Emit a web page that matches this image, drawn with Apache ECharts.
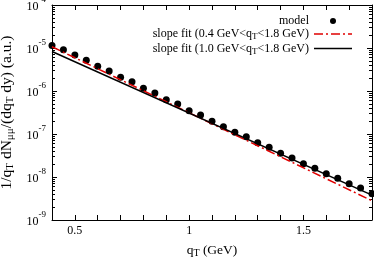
<!DOCTYPE html>
<html>
<head>
<meta charset="utf-8">
<script src="https://cdn.jsdelivr.net/npm/echarts@6/dist/echarts.min.js"></script>
<style>
html,body{margin:0;padding:0;background:#fff;}
#c{width:374px;height:257px;}
</style>
</head>
<body>
<div id="c"></div>
<script>
// Data
const qT = [0.40,0.45,0.50,0.55,0.60,0.65,0.70,0.75,0.80,0.85,0.90,0.95,1.00,1.05,1.10,
            1.15,1.20,1.25,1.30,1.35,1.40,1.45,1.50,1.55,1.60,1.65,1.70,1.75,1.80];
const modelVals = [1.15e-5,9.1e-6,6.9e-6,5.2e-6,3.75e-6,2.92e-6,2.08e-6,1.64e-6,1.16e-6,8.98e-7,
                   6.28e-7,4.99e-7,3.48e-7,2.77e-7,1.97e-7,1.48e-7,1.10e-7,8.66e-8,6.28e-8,4.91e-8,
                   3.56e-8,2.77e-8,2.04e-8,1.59e-8,1.19e-8,9.33e-9,6.98e-9,5.55e-9,4.09e-9];
const fitAx = [0.4, 1.8];
const fitAVals = [1.07e-5, 2.8e-9];   // slope fit (0.4-1.8 GeV)
const fitBx = [0.4, 1.8];
const fitBVals = [8.3e-6, 3.8e-9];    // slope fit (1.0-1.8 GeV)
const xLabels = ['0.5','1','1.5'];

const FONT = 'Liberation Serif';
const chart = echarts.init(document.getElementById('c'));
const pair = (xs, ys) => xs.map((x,i)=>[x, ys[i]]);
const richLegend = {
  n: {fontFamily: FONT, fontSize: 12, color: '#000', lineHeight: 15},
  s: {fontFamily: FONT, fontSize: 9, color: '#000', lineHeight: 9, verticalAlign: 'bottom'}
};
const richX = {
  n: {fontFamily: FONT, fontSize: 13.5, color: '#000', lineHeight: 16},
  s: {fontFamily: FONT, fontSize: 10, color: '#000', lineHeight: 9, verticalAlign: 'bottom'}
};
const richY = {
  n: {fontFamily: FONT, fontSize: 15.5, color: '#000', lineHeight: 18},
  s: {fontFamily: FONT, fontSize: 11, color: '#000', lineHeight: 10, verticalAlign: 'bottom'}
};
const tickCommon = {show: true, inside: true, length: 5, lineStyle: {color: '#000', width: 1}};
const minorCommon = {show: true, splitNumber: 9, length: 3, lineStyle: {color: '#000', width: 1}};
const solidIcon = 'path://M0,0H38V1.5H0Z';
const dashDotIcon = 'path://M0,0H9V1.5H0Z M12,0H14V1.5H12Z M17,0H26V1.5H17Z M29,0H31V1.5H29Z M34,0H38V1.5H34Z';

chart.setOption({
  animation: false,
  backgroundColor: '#fff',
  grid: {left: 52, right: 2, top: 5, bottom: 37, containLabel: false, outerBoundsMode: 'none'},
  legend: {
    orient: 'vertical', align: 'right', right: 17, top: 10,
    itemWidth: 38, itemHeight: 6, itemGap: 1, symbolKeepAspect: true,
    textStyle: {fontFamily: FONT, fontSize: 12, color: '#000', rich: richLegend},
    formatter: function(name){
      if (name === 'model') return '{n|model}';
      if (name === 'fitA') return '{n|slope fit (0.4 GeV<q}{s|T}{n|<1.8 GeV)}';
      return '{n|slope fit (1.0 GeV<q}{s|T}{n|<1.8 GeV)}';
    },
    data: [
      {name: 'model', icon: 'circle'},
      {name: 'fitA', icon: dashDotIcon},
      {name: 'fitB', icon: solidIcon}
    ]
  },
  xAxis: [{
    type: 'value', min: 0.4, max: 1.8, interval: 0.1,
    name: '{n|q}{s|T}{n| (GeV)}', nameLocation: 'middle', nameGap: 22,
    nameTextStyle: {rich: richX},
    axisLine: {show: true, lineStyle: {color: '#000', width: 1}},
    axisTick: tickCommon,
    splitLine: {show: false},
    axisLabel: {
      fontFamily: FONT, fontSize: 12, color: '#000', margin: 5,
      formatter: function(v){
        const r = Math.round(v*2);
        if (Math.abs(v*2 - r) < 1e-6) {
          return xLabels[r - 1] || '';
        }
        return '';
      }
    }
  },{
    type: 'value', min: 0.4, max: 1.8, interval: 0.1, position: 'top',
    axisLine: {show: true, lineStyle: {color: '#000', width: 1}},
    axisTick: tickCommon, axisLabel: {show: false}, splitLine: {show: false}
  }],
  yAxis: [{
    type: 'log', logBase: 10, min: 1e-9, max: 1e-4,
    name: '{n|1/q}{s|T}{n| dN}{s|μμ}{n|/(dq}{s|T}{n| dy) (a.u.)}',
    nameLocation: 'middle', nameGap: 32, nameRotate: 90,
    nameTextStyle: {rich: richY},
    axisLine: {show: true, lineStyle: {color: '#000', width: 1}},
    axisTick: tickCommon,
    minorTick: minorCommon,
    splitLine: {show: false}, minorSplitLine: {show: false},
    axisLabel: {
      margin: 6,
      padding: [4, 0, 0, 0],
      formatter: function(v){
        const e = Math.round(Math.log10(v));
        return '{b|10}{e|' + e + '}';
      },
      rich: {
        b: {fontFamily: FONT, fontSize: 12, color: '#000', lineHeight: 23},
        e: {fontFamily: FONT, fontSize: 9, color: '#000', lineHeight: 9, verticalAlign: 'top'}
      }
    }
  },{
    type: 'log', logBase: 10, min: 1e-9, max: 1e-4, position: 'right',
    axisLine: {show: true, lineStyle: {color: '#000', width: 1}},
    axisTick: tickCommon, minorTick: minorCommon,
    axisLabel: {show: false}, splitLine: {show: false}
  }],
  series: [
    {name: 'model', type: 'scatter', data: pair(qT, modelVals), symbol: 'circle', symbolSize: 7,
     itemStyle: {color: '#000', opacity: 1}, clip: false, z: 2},
    {name: 'fitA', type: 'line', data: pair(fitAx, fitAVals), showSymbol: false, symbol: 'none',
     lineStyle: {color: '#e00000', width: 1.5, type: [9,3,2,3]}, itemStyle: {color: '#e00000'}, z: 3},
    {name: 'fitB', type: 'line', data: pair(fitBx, fitBVals), showSymbol: false, symbol: 'none',
     lineStyle: {color: '#000', width: 1.5}, itemStyle: {color: '#000'}, z: 4}
  ]
});
</script>
</body>
</html>
